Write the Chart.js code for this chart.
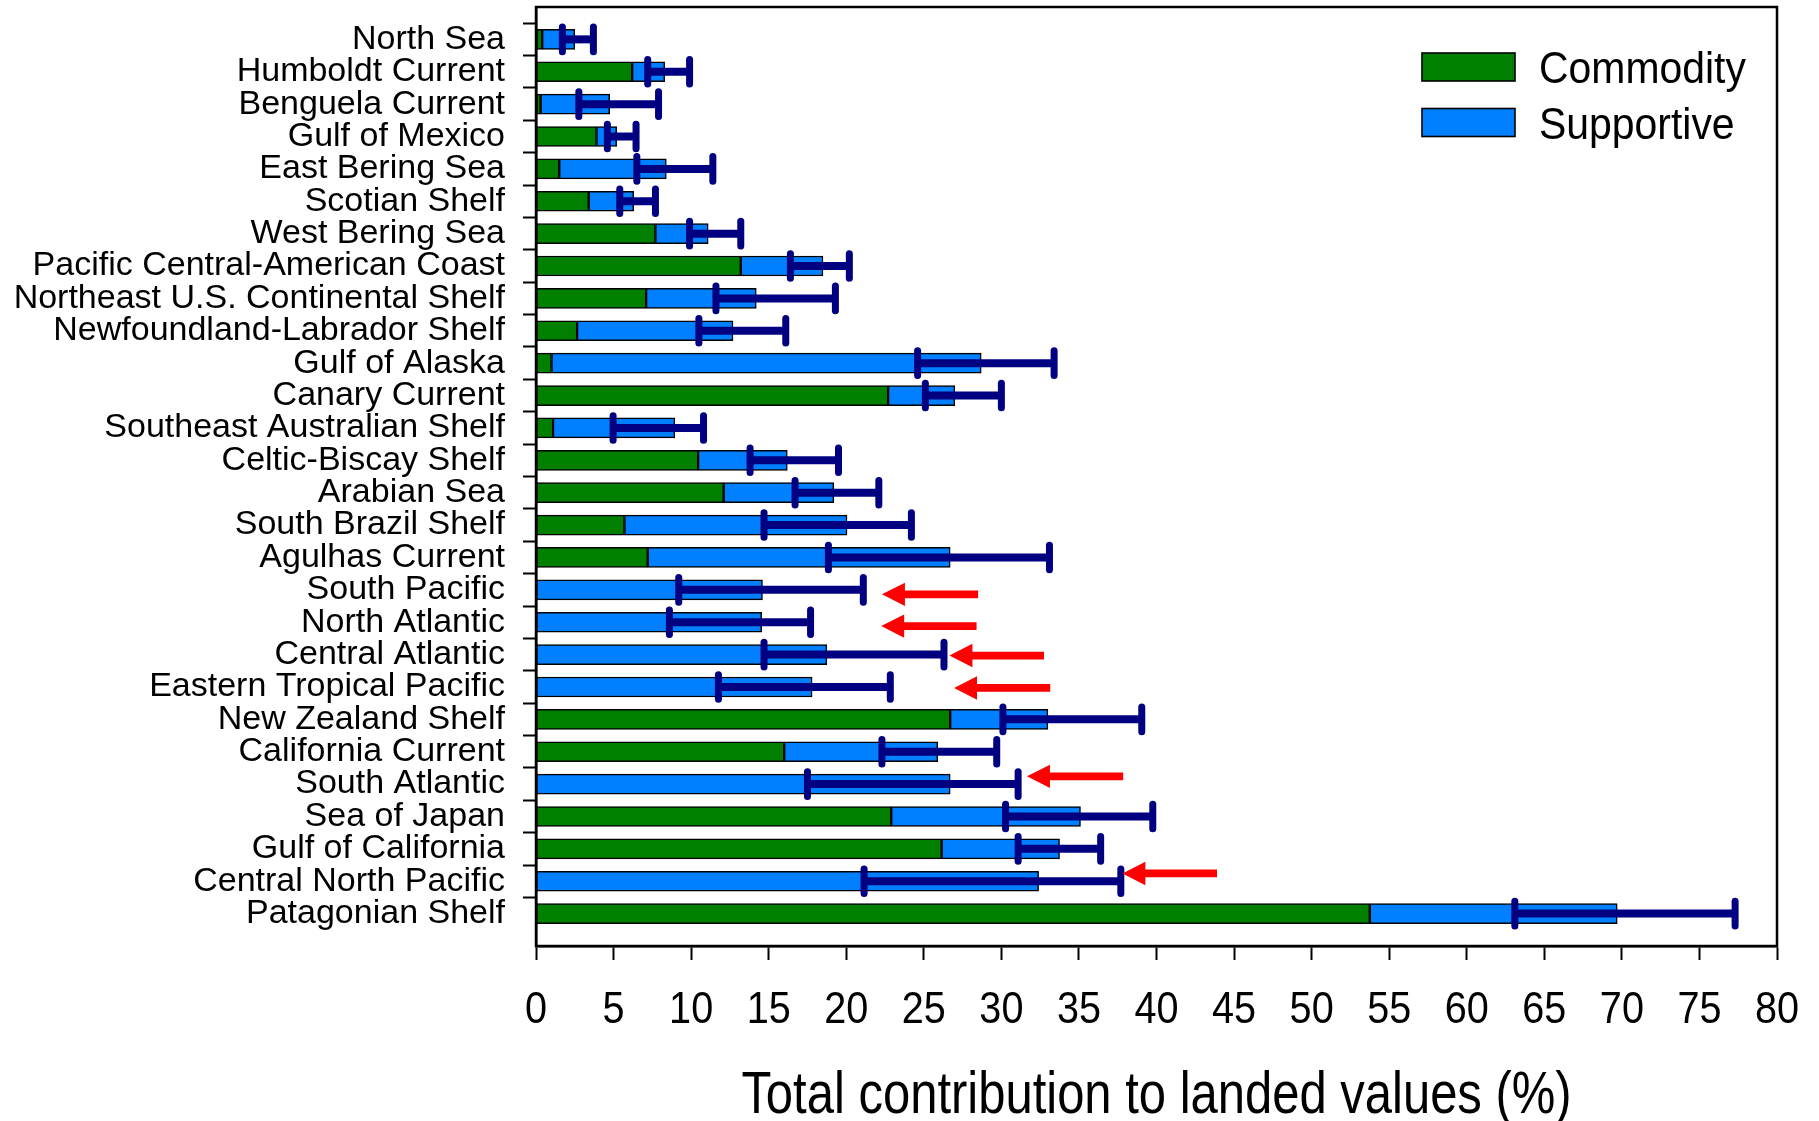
<!DOCTYPE html>
<html><head><meta charset="utf-8">
<script src="https://cdn.jsdelivr.net/npm/chart.js@4.4.1/dist/chart.umd.min.js"></script>
<style>html,body{margin:0;padding:0;background:#fff;}</style>
</head><body>
<canvas id="c" width="1819" height="1121" style="display:block;width:1819px;height:1121px"></canvas>
<script>
// ---- data ----
const categories = ['North Sea','Humboldt Current','Benguela Current','Gulf of Mexico','East Bering Sea','Scotian Shelf','West Bering Sea','Pacific Central-American Coast','Northeast U.S. Continental Shelf','Newfoundland-Labrador Shelf','Gulf of Alaska','Canary Current','Southeast Australian Shelf','Celtic-Biscay Shelf','Arabian Sea','South Brazil Shelf','Agulhas Current','South Pacific','North Atlantic','Central Atlantic','Eastern Tropical Pacific','New Zealand Shelf','California Current','South Atlantic','Sea of Japan','Gulf of California','Central North Pacific','Patagonian Shelf'];
const commodity  = [0.4, 6.2, 0.3, 3.9, 1.5, 3.4, 7.7, 13.2, 7.1, 2.65, 1.0, 22.7, 1.1, 10.45, 12.1, 5.7, 7.2, 0, 0, 0, 0, 26.7, 16.0, 0, 22.9, 26.15, 0, 53.75];
const supportive = [2.1, 2.1, 4.45, 1.3, 6.9, 2.9, 3.4, 5.3, 7.1, 10.05, 27.7, 4.3, 7.85, 5.75, 7.1, 14.35, 19.5, 14.6, 14.55, 18.75, 17.8, 6.3, 9.9, 26.7, 12.2, 7.6, 32.4, 15.95];
const errLow  = [1.7, 7.2, 2.76, 4.6, 6.5, 5.4, 9.9, 16.4, 11.6, 10.5, 24.6, 25.1, 4.97, 13.8, 16.7, 14.7, 18.85, 9.2, 8.6, 14.7, 11.76, 30.1, 22.3, 17.5, 30.27, 31.08, 21.15, 63.1];
const errHigh = [3.7, 9.9, 7.9, 6.45, 11.4, 7.7, 13.2, 20.2, 19.3, 16.1, 33.4, 30.0, 10.8, 19.5, 22.1, 24.2, 33.1, 21.1, 17.7, 26.3, 22.84, 39.05, 29.7, 31.08, 39.76, 36.4, 37.7, 77.3];
const xTickValues = [0,5,10,15,20,25,30,35,40,45,50,55,60,65,70,75,80];
const arrowRegions = ['South Pacific','North Atlantic','Central Atlantic','Eastern Tropical Pacific','South Atlantic','Central North Pacific'];
const arrowTip  = [22.3, 22.25, 26.65, 26.95, 31.65, 37.8];
const arrowTail = [28.5, 28.4, 32.75, 33.15, 37.85, 43.9];
const seriesNames = ['Commodity','Supportive'];
const xTitle = 'Total contribution to landed values (%)';

// ---- styling ----
const GREEN = '#007f00', BLUE = '#0080ff', NAVY = '#000080', RED = '#ff0000';
const SANS = "'Liberation Sans', Arial, Helvetica, sans-serif";
const arrowRowShift = {'South Pacific':0.14,'North Atlantic':0.12,'Central Atlantic':0.03,'Eastern Tropical Pacific':0.03,'South Atlantic':-0.24,'Central North Pacific':-0.24};

const paddedLabels = [''].concat(categories, ['']);
const pad = arr => [null].concat(arr, [null]);

function narrowText(ctx, text, x, y, size, sx, align) {
  ctx.save();
  ctx.font = size + 'px ' + SANS;
  ctx.textBaseline = 'alphabetic';
  ctx.textAlign = align;
  ctx.translate(x, y);
  ctx.scale(sx, 1);
  ctx.fillText(text, 0, 0);
  ctx.restore();
}

const overlayPlugin = {
  id: 'overlay',
  afterDatasetsDraw(chart) {
    const ctx = chart.ctx, xs = chart.scales.x, ys = chart.scales.y, ca = chart.chartArea;
    ctx.save();
    // error bars
    categories.forEach((c, i) => {
      const y = ys.getPixelForValue(i + 1);
      const x0 = xs.getPixelForValue(errLow[i]), x1 = xs.getPixelForValue(errHigh[i]);
      ctx.strokeStyle = NAVY;
      ctx.lineCap = 'butt';
      ctx.lineWidth = 8;
      ctx.beginPath(); ctx.moveTo(x0, y); ctx.lineTo(x1, y); ctx.stroke();
      ctx.lineCap = 'round';
      ctx.lineWidth = 7;
      [x0, x1].forEach(x => { ctx.beginPath(); ctx.moveTo(x, y - 12.3); ctx.lineTo(x, y + 12.3); ctx.stroke(); });
    });
    // red arrows
    const rowH = ys.getPixelForValue(2) - ys.getPixelForValue(1);
    arrowRegions.forEach((r, k) => {
      const i = categories.indexOf(r);
      const y = ys.getPixelForValue(i + 1) + arrowRowShift[r] * rowH;
      const xt = xs.getPixelForValue(arrowTip[k]), xe = xs.getPixelForValue(arrowTail[k]);
      const head = 23, half = 11.7, sh = 3.9;
      ctx.fillStyle = RED;
      ctx.beginPath();
      ctx.moveTo(xt, y);
      ctx.lineTo(xt + head, y - half);
      ctx.lineTo(xt + head, y - sh);
      ctx.lineTo(xe, y - sh);
      ctx.lineTo(xe, y + sh);
      ctx.lineTo(xt + head, y + sh);
      ctx.lineTo(xt + head, y + half);
      ctx.closePath();
      ctx.fill();
    });
    // frame
    ctx.strokeStyle = '#000';
    ctx.lineWidth = 2.5;
    ctx.lineCap = 'butt';
    ctx.strokeRect(ca.left, ca.top, ca.right - ca.left, ca.bottom - ca.top);
    // legend inside plot
    const colors = [GREEN, BLUE];
    const bx = ca.right - 355, by = ca.top + 46;
    seriesNames.forEach((n, k) => {
      const top = by + k * 55.5;
      ctx.fillStyle = colors[k];
      ctx.fillRect(bx, top, 93, 28);
      ctx.strokeStyle = '#000'; ctx.lineWidth = 1.6;
      ctx.strokeRect(bx, top, 93, 28);
      ctx.fillStyle = '#000';
      narrowText(ctx, n, bx + 117, top + 30, 44, 0.93, 'left');
    });
    // x tick labels (condensed) and axis title
    ctx.fillStyle = '#000';
    xTickValues.forEach(v => narrowText(ctx, String(v), xs.getPixelForValue(v), 1023, 44, 0.9, 'center'));
    narrowText(ctx, xTitle, (ca.left + ca.right) / 2, 1113, 59, 0.83, 'center');
    ctx.restore();
  }
};

new Chart(document.getElementById('c'), {
  type: 'bar',
  data: {
    labels: paddedLabels,
    datasets: [
      { label: seriesNames[0], data: pad(commodity), backgroundColor: GREEN, borderColor: '#000', borderWidth: 1.5, borderSkipped: false, barThickness: 20 },
      { label: seriesNames[1], data: pad(supportive), backgroundColor: BLUE, borderColor: '#000', borderWidth: 1.5, borderSkipped: false, barThickness: 20 }
    ]
  },
  options: {
    indexAxis: 'y',
    responsive: false,
    animation: false,
    devicePixelRatio: 1,
    layout: { padding: { top: 7, right: 42, left: 0, bottom: 0 } },
    plugins: { legend: { display: false }, tooltip: { enabled: false } },
    scales: {
      x: {
        type: 'linear', stacked: true, min: 0, max: 80,
        afterBuildTicks: s => { s.ticks = xTickValues.map(v => ({ value: v })); },
        afterFit: s => { s.height = 175; s.paddingLeft = 0; s.paddingRight = 0; s.paddingTop = 0; s.paddingBottom = 0; },
        grid: { drawOnChartArea: false, drawTicks: true, tickLength: 14, tickColor: '#000', tickWidth: 2 },
        border: { display: true, color: '#000', width: 2.5 },
        ticks: { display: false },
        title: { display: false }
      },
      y: {
        type: 'category', stacked: true, offset: false,
        afterFit: s => { s.width = 536; s.paddingTop = 0; s.paddingBottom = 0; s.paddingLeft = 0; s.paddingRight = 0; },
        grid: { drawOnChartArea: false, drawTicks: true, tickLength: 13, tickWidth: 2,
                tickColor: c => (c.tick && c.tick.label === '') ? 'rgba(0,0,0,0)' : '#000' },
        border: { display: true, color: '#000', width: 2.5 },
        ticks: { color: '#000', padding: 18, autoSkip: false, font: { family: SANS, size: 34, lineHeight: 1 } }
      }
    }
  },
  plugins: [overlayPlugin]
});
</script>
</body></html>
